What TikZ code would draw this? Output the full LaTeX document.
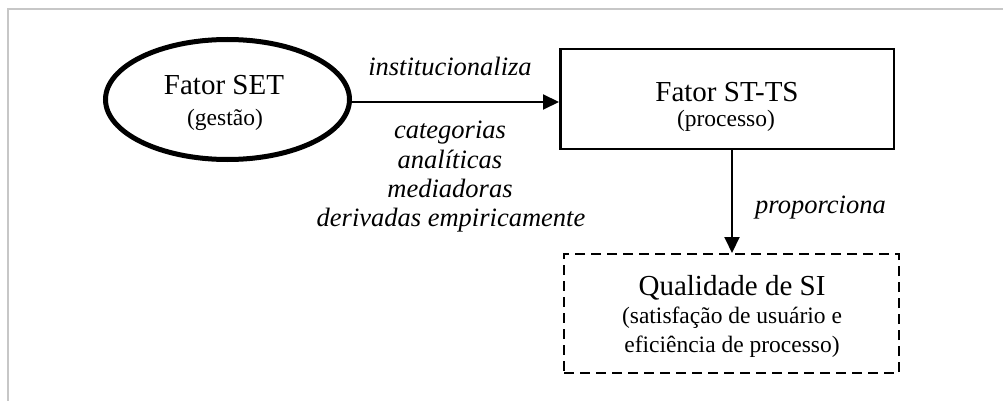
\documentclass[tikz,border=0pt]{standalone}
\usepackage{fontspec}
\setmainfont{Liberation Serif}
\usetikzlibrary{arrows.meta,shapes.geometric}
\begin{document}
\begin{tikzpicture}[x=1pt,y=-1pt,
  big/.style={font=\fontsize{29}{34}\selectfont, inner sep=0pt, anchor=base},
  small/.style={font=\fontsize{23.5}{28}\selectfont, inner sep=0pt, anchor=base},
  lab/.style={font=\fontsize{26.5}{30}\selectfont\itshape, inner sep=0pt, anchor=base},
  arr/.style={line width=2pt, -{Triangle[length=16pt,width=15pt]}},
  frameline/.style={draw=black!22, line width=2pt}]
\useasboundingbox (0,0) rectangle (1003,401);
\draw[frameline] (8,401) -- (8,9) -- (1003,9);
% shapes
\node[ellipse, draw, line width=5pt, minimum width=244pt, minimum height=120pt, inner sep=0pt] (ell) at (227.5,99.5) {};
\node[rectangle, draw, line width=2.5pt, minimum width=333.5pt, minimum height=99.5pt, inner sep=0pt] (box1) at (727,99) {};
\node[rectangle, draw, line width=2pt, dash pattern=on 10pt off 6pt, minimum width=335pt, minimum height=119pt, inner sep=0pt] (box2) at (731.5,313.5) {};
% texts
\node[big] (t1) at (224,95) {Fator SET};
\node[small] (t2) at (225,125) {(gestão)};
\node[big] (t3) at (727,102) {Fator ST-TS};
\node[small] (t4) at (726,126) {(processo)};
\node[big] (t5) at (732,295) {Qualidade de SI};
\node[small] (t6) at (732,323) {(satisfação de usuário e};
\node[small] (t7) at (732,352) {eficiência de processo)};
\node[lab] (l1) at (450,76) {institucionaliza};
\node[lab] (l2) at (450,139) {categorias};
\node[lab] (l3) at (450,168) {analíticas};
\node[lab] (l4) at (450,197) {mediadoras};
\node[lab] (l5) at (451,226) {derivadas empiricamente};
\node[lab, anchor=base west] (l6) at (755,213) {proporciona};
% connectors
\coordinate (vx) at (732,0);
\coordinate (ay) at (0,102);
\draw[arr] (ell.east |- ay) -- (box1.west |- ay);
\draw[arr] (box1.south -| vx) -- (box2.north -| vx);
\end{tikzpicture}
\end{document}
